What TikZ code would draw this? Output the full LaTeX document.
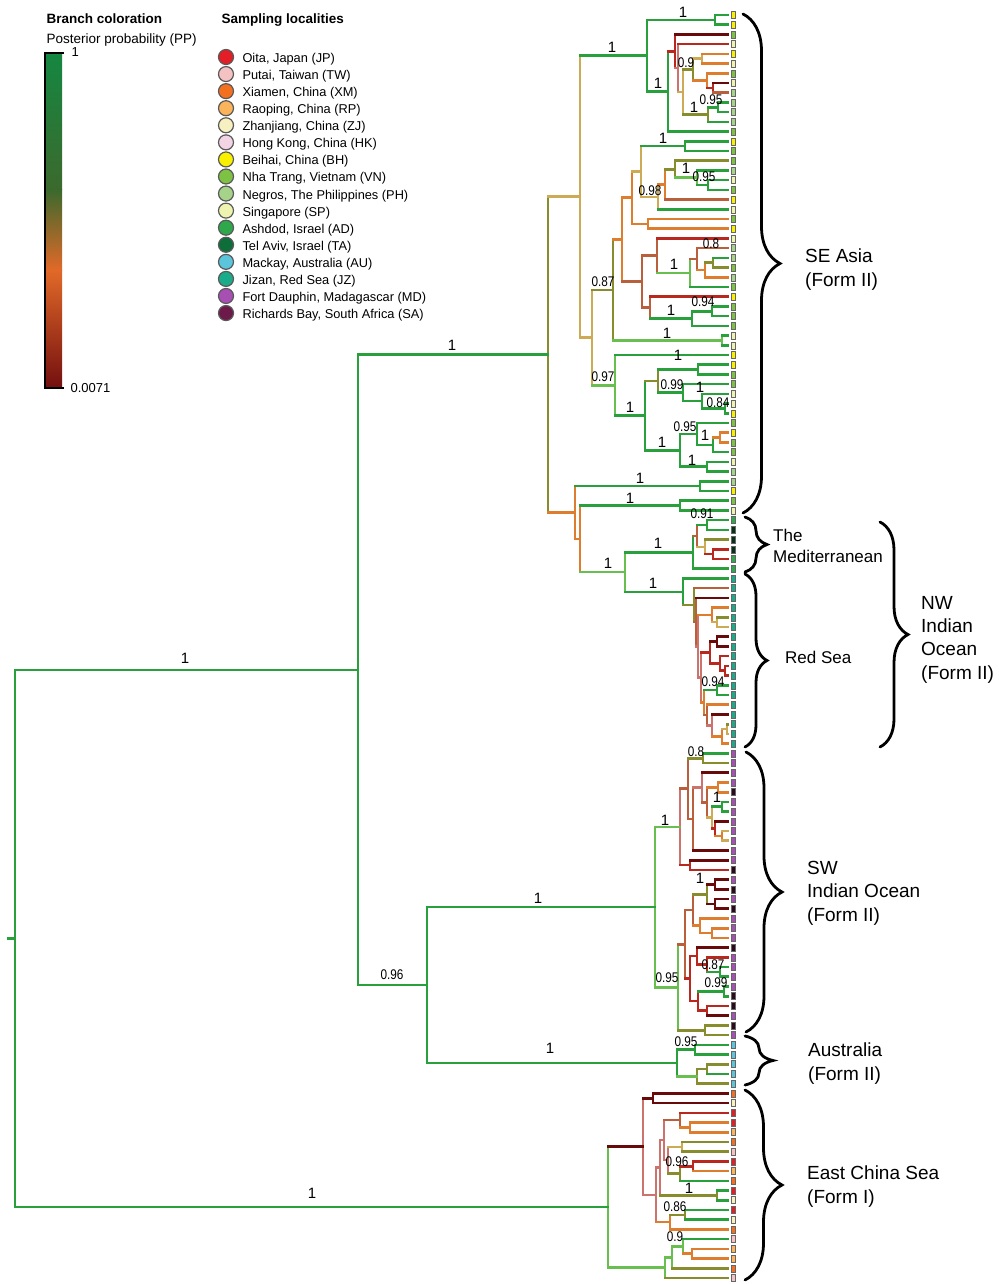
\documentclass[tikz,border=0pt]{standalone}
\usepackage{fontspec}
\setmainfont{Liberation Sans}
\newfontfamily\narrowfont[FakeStretch=0.84]{Liberation Sans}
\usetikzlibrary{calc,decorations.pathreplacing}

% branch colours (posterior probability)
\definecolor{cGr}{RGB}{40,160,60}
\definecolor{cLg}{RGB}{105,190,80}
\definecolor{cOl}{RGB}{135,140,45}
\definecolor{cYo}{RGB}{205,170,85}
\definecolor{cOr}{RGB}{222,125,45}
\definecolor{cBr}{RGB}{185,95,60}
\definecolor{cPk}{RGB}{205,115,110}
\definecolor{cRd}{RGB}{185,40,30}
\definecolor{cDr}{RGB}{105,10,10}
% sampling localities
\definecolor{cJP}{HTML}{E41E26}
\definecolor{cTW}{HTML}{F4C2C2}
\definecolor{cXM}{HTML}{F37021}
\definecolor{cRP}{HTML}{FBB45C}
\definecolor{cZJ}{HTML}{F7F0C0}
\definecolor{cHK}{HTML}{F2D4E4}
\definecolor{cBH}{HTML}{F9F000}
\definecolor{cVN}{HTML}{7DC242}
\definecolor{cPH}{HTML}{A6D38A}
\definecolor{cSP}{HTML}{EEF4B0}
\definecolor{cAD}{HTML}{2EA84A}
\definecolor{cTA}{HTML}{0D6E3A}
\definecolor{cAU}{HTML}{5BC5DC}
\definecolor{cJZ}{HTML}{1AAB8A}
\definecolor{cMD}{HTML}{A84FB4}
\definecolor{cSA}{HTML}{6D1A4A}
\colorlet{ckTA}{cTA!45!black}
\colorlet{ckSA}{cSA!40!black}

% clade: name, x, own colour, child 1, colour 1, child 2, colour 2
\newcommand\clade[7]{%
  \path let \p1=($(#4)!.5!(#6)$) in coordinate (#1) at (#2pt,\y1);
  \draw[br,#3] (#4 -| #1) -- (#6 -| #1);
  \draw[br,#5] (#4 -| #1) -- (#4);
  \draw[br,#7] (#6 -| #1) -- (#6);
}

\begin{document}
\begin{tikzpicture}[x=1pt, y=-1pt,
    declare function={ly(\i)=15+9.715*\i;},
    br/.style = {line width=2.6pt, line cap=rect},
    ppa/.style = {font=\fontsize{15}{15}\selectfont, inner sep=0pt},
    ppb/.style = {font=\narrowfont\fontsize{14}{14}\selectfont, inner sep=0pt},
    brc/.style = {decorate, decoration={brace, amplitude=#1}, line width=2.8pt, line cap=round},
    region/.style = {anchor=north west, align=left, inner sep=0pt, font=\fontsize{19}{24}\selectfont},
    loc/.style = {circle, draw=black!65, line width=1.2pt, minimum size=15pt, inner sep=0pt},
    leafbox/.style = {draw=black!60, line width=0.5pt}]
  \useasboundingbox (0,0) rectangle (1000,1284);
  \fill[white] (0,0) rectangle (1000,1284);

  % legend: branch coloration
  \node[anchor=base west, font=\bfseries\fontsize{13.5}{16}\selectfont] (bctitle) at (43,24) {Branch coloration};
  \node[anchor=base west, font=\fontsize{13.5}{16}\selectfont] (pptitle) at (43,44) {Posterior probability (PP)};
  \shade[top color={rgb,255:red,20;green,135;blue,65}, bottom color={rgb,255:red,60;green,105;blue,45}] (45,53) rectangle (62,190);
  \shade[top color={rgb,255:red,60;green,105;blue,45}, bottom color={rgb,255:red,225;green,105;blue,40}] (45,190) rectangle (62,270);
  \shade[top color={rgb,255:red,225;green,105;blue,40}, bottom color={rgb,255:red,115;green,15;blue,15}] (45,270) rectangle (62,388);
  \draw[line width=1.4pt] (64,53) -- (45,53) -- (45,388) -- (64,388);
  \node[anchor=base west, font=\fontsize{13}{15}\selectfont] (ppmax) at (68,57) {1};
  \node[anchor=base west, font=\fontsize{13}{15}\selectfont] (ppmin) at (67,392) {0.0071};

  % legend: sampling localities
  \node[anchor=base west, font=\bfseries\fontsize{13.5}{16}\selectfont] (sltitle) at (218,24) {Sampling localities};
  \foreach \nm/\cc [count=\k from 0] in {{Oita, Japan (JP)}/cJP, {Putai, Taiwan (TW)}/cTW,
      {Xiamen, China (XM)}/cXM, {Raoping, China (RP)}/cRP, {Zhanjiang, China (ZJ)}/cZJ,
      {Hong Kong, China (HK)}/cHK, {Beihai, China (BH)}/cBH, {Nha Trang, Vietnam (VN)}/cVN,
      {Negros, The Philippines (PH)}/cPH, {Singapore (SP)}/cSP, {Ashdod, Israel (AD)}/cAD,
      {Tel Aviv, Israel (TA)}/cTA, {Mackay, Australia (AU)}/cAU, {Jizan, Red Sea (JZ)}/cJZ,
      {Fort Dauphin, Madagascar (MD)}/cMD, {Richards Bay, South Africa (SA)}/cSA} {
    \node[loc, fill=\cc] (dot\k) at (226,{57+17.07*\k}) {};
    \node[anchor=base west, font=\fontsize{12.8}{15}\selectfont] (place\k) at (239,{62.5+17.07*\k}) {\nm};
  }

  % leaves
  \foreach \i in {0,...,130}
    \coordinate (L\i) at (728,{ly(\i)});

  % SE Asia
  \clade{B1}{715}{cGr}{L0}{cGr}{L1}{cGr}
  \clade{G1}{702}{cYo}{L4}{cOr}{L5}{cOr}
  \clade{G3}{713}{cRd}{L7}{cDr}{L8}{cBr}
  \clade{G2}{707}{cOr}{L6}{cOr}{G3}{cRd}
  \clade{G}{693}{cOl}{G1}{cYo}{G2}{cOr}
  \clade{H1}{718}{cGr}{L9}{cGr}{L10}{cGr}
  \clade{H}{708}{cOl}{H1}{cGr}{L11}{cGr}
  \clade{F}{683}{cYo}{G}{cOl}{H}{cOl}
  \clade{E}{678}{cPk}{L3}{cRd}{F}{cYo}
  \clade{D}{675}{cRd}{L2}{cDr}{E}{cPk}
  \clade{B2}{668}{cGr}{D}{cRd}{L12}{cGr}
  \clade{B}{647}{cGr}{B1}{cGr}{B2}{cGr}
  \clade{U3}{685}{cGr}{L13}{cGr}{L14}{cGr}
  \clade{U8}{708}{cGr}{L17}{cGr}{L18}{cGr}
  \clade{U7}{697}{cLg}{L16}{cGr}{U8}{cGr}
  \clade{U6}{675}{cOl}{L15}{cOl}{U7}{cLg}
  \clade{U5}{665}{cOr}{U6}{cOl}{L19}{cBr}
  \clade{U4}{658}{cYo}{U5}{cOr}{L20}{cGr}
  \clade{U1}{641}{cYo}{U3}{cGr}{U4}{cYo}
  \clade{U2}{648}{cOr}{L21}{cOr}{L22}{cOr}
  \clade{U}{632}{cOr}{U1}{cYo}{U2}{cOr}
  \clade{V6}{713}{cOl}{L25}{cGr}{L26}{cOl}
  \clade{V5}{705}{cOr}{V6}{cOl}{L27}{cOr}
  \clade{V4}{697}{cBr}{L24}{cBr}{V5}{cOr}
  \clade{V3}{690}{cLg}{V4}{cBr}{L28}{cGr}
  \clade{V1}{657}{cBr}{L23}{cRd}{V3}{cLg}
  \clade{V8}{712}{cGr}{L30}{cGr}{L31}{cGr}
  \clade{V7}{692}{cGr}{V8}{cGr}{L32}{cGr}
  \clade{V2}{650}{cBr}{L29}{cRd}{V7}{cGr}
  \clade{V}{642}{cBr}{V1}{cBr}{V2}{cBr}
  \clade{P}{622}{cOr}{U}{cOr}{V}{cBr}
  \clade{C1b}{722}{cLg}{L33}{cGr}{L34}{cGr}
  \clade{C1}{613}{cOl}{P}{cOr}{C1b}{cLg}
  \clade{W2}{698}{cGr}{L36}{cGr}{L37}{cGr}
  \clade{W5}{725}{cGr}{L40}{cGr}{L41}{cGr}
  \clade{W4}{702}{cGr}{L39}{cGr}{W5}{cGr}
  \clade{W3}{683}{cGr}{L38}{cGr}{W4}{cGr}
  \clade{W1}{658}{cOl}{W2}{cGr}{W3}{cGr}
  \clade{W9}{720}{cOr}{L43}{cOr}{L44}{cOr}
  \clade{W8}{713}{cGr}{W9}{cOr}{L45}{cGr}
  \clade{W7}{697}{cGr}{L42}{cGr}{W8}{cGr}
  \clade{W10}{707}{cGr}{L46}{cGr}{L47}{cGr}
  \clade{W6}{680}{cGr}{W7}{cGr}{W10}{cGr}
  \clade{C2b}{645}{cGr}{W1}{cOl}{W6}{cGr}
  \clade{C2}{615}{cLg}{L35}{cGr}{C2b}{cGr}
  \clade{C}{592}{cYo}{C1}{cOl}{C2}{cLg}
  \clade{A}{580}{cYo}{B}{cGr}{C}{cYo}
  \clade{Qa}{700}{cGr}{L48}{cGr}{L49}{cGr}
  \clade{Qb}{680}{cGr}{L50}{cGr}{L51}{cGr}

  % The Mediterranean
  \clade{Mb}{707}{cGr}{L52}{cGr}{L53}{cGr}
  \clade{Md}{713}{cRd}{L55}{cRd}{L56}{cRd}
  \clade{Mc}{705}{cYo}{L54}{cOl}{Md}{cRd}
  \clade{Ma}{697}{cBr}{Mb}{cGr}{Mc}{cYo}
  \clade{Med}{693}{cGr}{Ma}{cBr}{L57}{cGr}

  % Red Sea
  \clade{Xe}{717}{cYo}{L62}{cOl}{L63}{cYo}
  \clade{Xd}{712}{cOr}{L61}{cOr}{Xe}{cYo}
  \clade{Xh}{717}{cDr}{L64}{cDr}{L65}{cDr}
  \clade{Xj}{725}{cRd}{L67}{cRd}{L68}{cRd}
  \clade{Xi}{720}{cRd}{L66}{cRd}{Xj}{cRd}
  \clade{Xg}{710}{cRd}{Xh}{cDr}{Xi}{cRd}
  \clade{X094}{717}{cGr}{L69}{cGr}{L70}{cGr}
  \clade{Xr}{727}{cYo}{L73}{cOl}{L74}{cYo}
  \clade{Xq}{722}{cOr}{Xr}{cYo}{L75}{cOr}
  \clade{Xp}{712}{cPk}{L72}{cDr}{Xq}{cOr}
  \clade{Xo}{707}{cBr}{L71}{cOr}{Xp}{cPk}
  \clade{Xk}{704}{cOr}{X094}{cGr}{Xo}{cBr}
  \clade{Xf}{701}{cPk}{Xg}{cRd}{Xk}{cOr}
  \clade{Xc}{698}{cPk}{Xd}{cOr}{Xf}{cPk}
  \clade{Xb}{696}{cBr}{L60}{cDr}{Xc}{cPk}
  \clade{Xa}{694}{cOl}{L59}{cBr}{Xb}{cBr}
  \clade{Xred}{683}{cGr}{L58}{cGr}{Xa}{cOl}
  \clade{T}{625}{cLg}{Med}{cGr}{Xred}{cGr}
  \clade{R}{580}{cOr}{Qb}{cGr}{T}{cLg}
  \clade{Q}{575}{cOr}{Qa}{cGr}{R}{cOr}
  \clade{S}{548}{cOl}{A}{cYo}{Q}{cOr}

  % SW Indian Ocean
  \clade{SW08}{703}{cOl}{L76}{cGr}{L77}{cOl}
  \clade{SWg}{718}{cOr}{L79}{cOr}{L80}{cOr}
  \clade{SWi}{722}{cGr}{L81}{cGr}{L82}{cGr}
  \clade{SWk}{722}{cOr}{L84}{cYo}{L85}{cYo}
  \clade{SWj}{715}{cRd}{L83}{cDr}{SWk}{cOr}
  \clade{SWh}{712}{cYo}{SWi}{cGr}{SWj}{cRd}
  \clade{SWf}{707}{cBr}{SWg}{cOr}{SWh}{cYo}
  \clade{SWe}{702}{cPk}{L78}{cDr}{SWf}{cBr}
  \clade{SWd}{693}{cBr}{SWe}{cPk}{L86}{cDr}
  \clade{SWb}{688}{cBr}{SW08}{cOl}{SWd}{cBr}
  \clade{SWc}{690}{cRd}{L87}{cDr}{L88}{cRd}
  \clade{SWa}{680}{cPk}{SWb}{cBr}{SWc}{cRd}
  \clade{SWr}{715}{cDr}{L89}{cDr}{L90}{cDr}
  \clade{SWs}{715}{cDr}{L91}{cDr}{L92}{cDr}
  \clade{SWq}{707}{cOl}{SWr}{cDr}{SWs}{cDr}
  \clade{SWu}{712}{cOr}{L94}{cOr}{L95}{cOr}
  \clade{SWt}{700}{cOr}{L93}{cOr}{SWu}{cOr}
  \clade{SWo}{693}{cBr}{SWq}{cOl}{SWt}{cOr}
  \clade{SW087}{720}{cGr}{L98}{cGr}{L99}{cGr}
  \clade{SWx}{707}{cRd}{L97}{cRd}{SW087}{cGr}
  \clade{SWv}{697}{cRd}{L96}{cDr}{SWx}{cRd}
  \clade{SW099}{724}{cGr}{L100}{cGr}{L101}{cGr}
  \clade{SWy}{707}{cRd}{L102}{cRd}{L103}{cDr}
  \clade{SWw}{698}{cRd}{SW099}{cGr}{SWy}{cRd}
  \clade{SWp}{690}{cRd}{SWv}{cRd}{SWw}{cRd}
  \clade{SWm}{685}{cBr}{SWo}{cBr}{SWp}{cRd}
  \clade{SWn}{705}{cOl}{L104}{cOl}{L105}{cOl}
  \clade{SWl}{678}{cLg}{SWm}{cBr}{SWn}{cOl}
  \clade{SW}{655}{cLg}{SWa}{cLg}{SWl}{cLg}

  % Australia
  \clade{AUa}{695}{cGr}{L106}{cGr}{L107}{cGr}
  \clade{AUc}{707}{cOl}{L108}{cOl}{L109}{cGr}
  \clade{AUb}{697}{cOl}{AUc}{cOl}{L110}{cOl}
  \clade{AU}{677}{cGr}{AUa}{cGr}{AUb}{cLg}
  \clade{SWA}{427}{cGr}{SW}{cGr}{AU}{cGr}
  \clade{N1}{358}{cGr}{S}{cGr}{SWA}{cGr}

  % East China Sea
  \clade{E2}{653}{cDr}{L111}{cDr}{L112}{cDr}
  \clade{E4}{690}{cOr}{L114}{cOr}{L115}{cOr}
  \clade{E5}{680}{cBr}{L113}{cRd}{E4}{cOr}
  \clade{E6}{682}{cYo}{L116}{cOl}{L117}{cOl}
  \clade{E7}{693}{cRd}{L118}{cRd}{L119}{cOr}
  \clade{E8}{680}{cOl}{E7}{cRd}{L120}{cGr}
  \clade{E9}{668}{cPk}{E6}{cYo}{E8}{cOl}
  \clade{E10}{664}{cPk}{E5}{cBr}{E9}{cPk}
  \clade{E11}{717}{cOl}{L121}{cGr}{L122}{cGr}
  \clade{E12}{660}{cPk}{E10}{cPk}{E11}{cOl}
  \clade{E13}{685}{cOl}{L123}{cGr}{L124}{cGr}
  \clade{E14}{670}{cOr}{E13}{cOl}{L125}{cOr}
  \clade{E15}{656}{cPk}{E12}{cPk}{E14}{cOr}
  \clade{E1}{643}{cPk}{E2}{cDr}{E15}{cPk}
  \clade{E16}{692}{cOr}{L127}{cOr}{L128}{cOr}
  \clade{E17}{683}{cLg}{L126}{cGr}{E16}{cOr}
  \clade{E19}{672}{cLg}{E17}{cLg}{L129}{cOl}
  \clade{ECb}{665}{cLg}{E19}{cLg}{L130}{cOl}
  \clade{ECS}{608}{cLg}{E1}{cDr}{ECb}{cLg}

  % root
  \clade{R0}{15}{cGr}{N1}{cGr}{ECS}{cGr}
  \coordinate (stub) at ([xshift=-7pt]R0);
  \draw[br,cGr] (stub) -- (R0);

  % locality boxes at the tips
  \foreach \cc [count=\i from 0] in {BH,BH,VN,SP,BH,SP,VN,SP,PH,PH,PH,PH,VN,BH,VN,VN,PH,SP,VN,BH,
      SP,VN,BH,SP,PH,PH,VN,PH,VN,BH,VN,VN,VN,SP,SP,BH,BH,VN,VN,SP,SP,BH,VN,BH,VN,VN,SP,PH,PH,BH,VN,SP,
      AD,kTA,kTA,kTA,AD,AD,
      JZ,JZ,JZ,JZ,JZ,JZ,JZ,JZ,JZ,JZ,JZ,JZ,JZ,JZ,JZ,JZ,JZ,JZ,
      MD,MD,MD,MD,kSA,MD,MD,MD,MD,MD,MD,MD,kSA,MD,kSA,MD,kSA,MD,MD,MD,kSA,MD,MD,MD,MD,kSA,kSA,MD,kSA,MD,
      AU,AU,AU,AU,AU,
      XM,ZJ,JP,JP,RP,XM,TW,JP,RP,XM,JP,ZJ,JP,ZJ,XM,TW,RP,RP,XM,TW}
    \draw[leafbox, fill=c\cc] ($(L\i)+(3,-3.5)$) rectangle +(4.5,7);

  % posterior probabilities
  \foreach \px/\py [count=\k] in {683/12, 612/47, 658/83, 694/107, 663/138, 686/168, 674/264,
      671/310, 667/333, 678/355, 700/387, 630/407, 705/435, 662/442, 692/460, 640/478, 630/498,
      658/543, 608/563, 653/583, 717/797, 665/820, 700/878, 689/1188, 452/345, 185/658,
      538/898, 550/1048, 312/1193}
    \node[ppa] (pa\k) at (\px,\py) {1};
  \foreach \px/\py/\v [count=\k] in {686/63/0.9, 711/100/0.95, 704/177/0.95, 650/191/0.98,
      711/244/0.8, 603/282/0.87, 703/302/0.94, 603/377/0.97, 672/385/0.99, 718/403/0.84,
      685/427/0.95, 702/514/0.91, 713/682/0.94, 696/752/0.8, 713/965/0.87, 716/983/0.99,
      667/978/0.95, 686/1042/0.95, 677/1162/0.96, 675/1207/0.86, 675/1237/0.9, 392/975/0.96}
    \node[ppb] (pb\k) at (\px,\py) {\v};

  % clade braces
  \draw[brc=37] (743,14) -- (743,513);
  \draw[brc=22] (745,517) -- (745,572);
  \draw[brc=22] (745,574) -- (745,747);
  \draw[brc=28] (880,522) -- (880,747);
  \draw[brc=36] (746,752) -- (746,1032);
  \draw[brc=28] (745,1036) -- (745,1085);
  \draw[brc=37] (745,1090) -- (745,1280);

  % clade names
  \node[region] (seasia) at (805,249) {SE Asia\\(Form II)};
  \node[region, font=\fontsize{17}{21}\selectfont] (med) at (773,529) {The\\Mediterranean};
  \node[region, font=\fontsize{17}{21}\selectfont] (redsea) at (785,651) {Red Sea};
  \node[region, font=\fontsize{19}{23.3}\selectfont] (nwio) at (921,596) {NW\\Indian\\Ocean\\(Form II)};
  \node[region, font=\fontsize{19}{23.5}\selectfont] (swio) at (807,861) {SW\\Indian Ocean\\(Form II)};
  \node[region] (aus) at (808,1043) {Australia\\(Form II)};
  \node[region] (ecs) at (807,1166) {East China Sea\\(Form I)};
\end{tikzpicture}
\end{document}
